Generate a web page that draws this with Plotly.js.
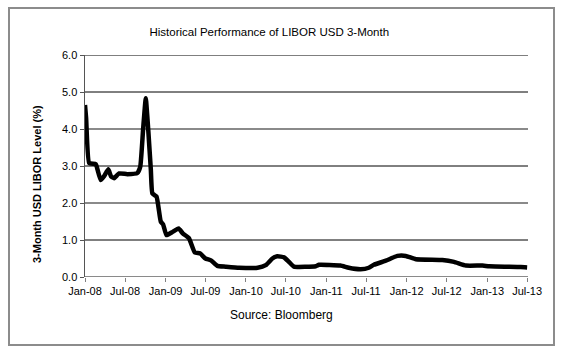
<!DOCTYPE html>
<html>
<head>
<meta charset="utf-8">
<script src="https://cdn.plot.ly/plotly-3.0.1.min.js"></script>
<style>
html,body{margin:0;padding:0;background:#fff;}
#wrap{position:relative;width:561px;height:353px;}
#chart{width:561px;height:353px;}
#frame{position:absolute;left:8px;top:7px;width:543px;height:335px;border:2px solid #8c8c8c;pointer-events:none;}
</style>
</head>
<body>
<div id="wrap"><div id="chart"></div><div id="frame"></div></div>
<script>
// Data
const dates = [
  '2008-01-01','2008-01-06','2008-01-20','2008-02-19','2008-02-27','2008-03-12','2008-03-27',
  '2008-04-16','2008-04-28','2008-05-12','2008-06-04','2008-07-11','2008-08-26','2008-09-08',
  '2008-09-21','2008-10-03','2008-10-14','2008-10-26','2008-11-02','2008-11-21','2008-12-10',
  '2008-12-21','2009-01-05','2009-02-02','2009-03-01','2009-03-20','2009-04-17','2009-05-14',
  '2009-06-06','2009-07-01','2009-07-26','2009-08-24','2009-10-01','2009-12-01','2010-02-23',
  '2010-04-01','2010-05-01','2010-05-23','2010-06-23','2010-07-15','2010-08-07','2010-11-14',
  '2010-11-29','2011-03-06','2011-04-13','2011-06-06','2011-07-13','2011-08-05','2011-09-28',
  '2011-11-20','2011-12-28','2012-02-12','2012-06-11','2012-08-03','2012-09-26','2012-12-10',
  '2013-01-10','2013-06-02','2013-07-01'
];
const libor = [
  4.65,4.30,3.08,3.05,2.90,2.62,2.72,
  2.91,2.72,2.67,2.80,2.78,2.81,2.98,
  4.00,4.83,4.00,2.90,2.26,2.17,1.50,
  1.42,1.13,1.22,1.31,1.18,1.05,0.66,
  0.64,0.50,0.45,0.30,0.28,0.25,0.25,
  0.32,0.50,0.56,0.53,0.41,0.28,0.29,
  0.33,0.31,0.25,0.21,0.25,0.33,0.44,
  0.57,0.57,0.48,0.46,0.41,0.31,0.31,
  0.29,0.27,0.26
];
const yTickVals = [0,1,2,3,4,5,6];
const grayGridVals = [0,2,4];
const blackGridVals = [1,3,5,6];
const chartTitle = 'Historical Performance of LIBOR USD 3-Month';
const yTitle = '3-Month USD LIBOR Level (%)';
const xTitle = 'Source: Bloomberg';

const font = 'Liberation Sans, Arial, sans-serif';

const trace = {
  x: dates, y: libor, type: 'scatter', mode: 'lines',
  line: {color: '#000000', width: 4.5, shape: 'spline', smoothing: 0.4},
  hoverinfo: 'skip', showlegend: false
};

const gridShapes = [];
grayGridVals.forEach(v => gridShapes.push({type: 'line', xref: 'paper', yref: 'y', x0: 0, x1: 1, y0: v, y1: v,
  layer: 'below', line: {color: '#8a8a8a', width: 2}}));
blackGridVals.forEach(v => gridShapes.push({type: 'line', xref: 'paper', yref: 'y', x0: 0, x1: 1, y0: v, y1: v,
  layer: 'below', line: {color: '#000000', width: 1}}));

const layout = {
  width: 561, height: 353,
  margin: {l: 85, r: 33, t: 55, b: 76},
  paper_bgcolor: '#ffffff', plot_bgcolor: '#ffffff',
  font: {family: font, size: 11, color: '#000'},
  title: {text: chartTitle, font: {family: font, size: 11.5, color: '#000'}, x: 0.48, xanchor: 'center', y: 0.91, yanchor: 'middle'},
  xaxis: {
    type: 'date', range: ['2008-01-01', '2013-07-05'],
    tickformat: '%b-%y', dtick: 'M6', tick0: '2008-01-01',
    ticks: 'outside', ticklen: 4, tickcolor: '#808080', tickwidth: 1,
    showgrid: false, zeroline: false, showline: false,
    tickfont: {family: font, size: 11, color: '#000'}
  },
  yaxis: {
    range: [0, 6], tickmode: 'array', tickvals: yTickVals, tickformat: '.1f',
    ticks: 'outside', ticklen: 4, tickcolor: '#555', tickwidth: 1,
    showgrid: false, zeroline: false, showline: true, linecolor: '#555', linewidth: 1.5,
    tickfont: {family: font, size: 11, color: '#000'}
  },
  shapes: gridShapes,
  annotations: [
    {text: '<b>' + yTitle + '</b>', textangle: -90, xref: 'paper', yref: 'paper',
     x: -0.11, y: 0.42, xanchor: 'center', yanchor: 'middle', showarrow: false,
     font: {family: font, size: 11, color: '#000'}},
    {text: xTitle, xref: 'paper', yref: 'paper', x: 0.443, y: -0.17,
     xanchor: 'center', yanchor: 'middle', showarrow: false,
     font: {family: font, size: 12, color: '#000'}}
  ]
};

Plotly.newPlot('chart', [trace], layout, {staticPlot: true, displayModeBar: false});
</script>
</body>
</html>
